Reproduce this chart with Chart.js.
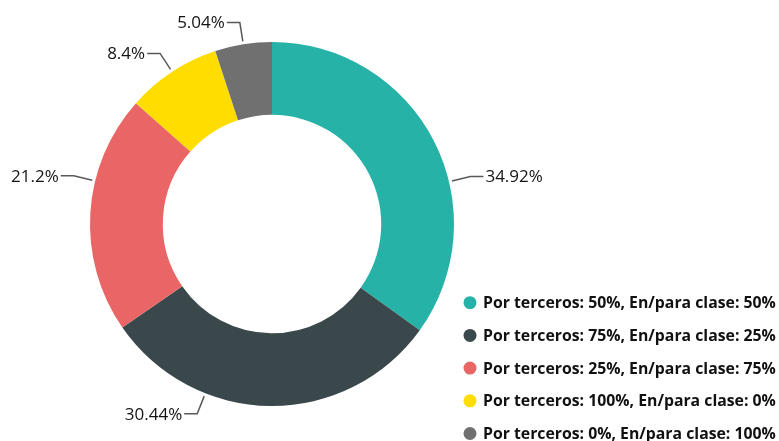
<!DOCTYPE html>
<html>
<head>
<meta charset="utf-8">
<script src="https://cdn.jsdelivr.net/npm/chart.js@4"></script>
<style>
    html, body { margin: 0; padding: 0; background: #fff; overflow: hidden; }
    #wrap { position: relative; width: 779px; height: 441px; }
</style>
</head>
<body>
<div id="wrap"><canvas id="donut" width="779" height="441"></canvas></div>
<script>
// Data
const categories = [
    'Por terceros: 50%, En/para clase: 50%',
    'Por terceros: 75%, En/para clase: 25%',
    'Por terceros: 25%, En/para clase: 75%',
    'Por terceros: 100%, En/para clase: 0%',
    'Por terceros: 0%, En/para clase: 100%'
];
const shares = [34.92, 30.44, 21.2, 8.4, 5.04];
const shareLabels = ['34.92%', '30.44%', '21.2%', '8.4%', '5.04%'];
const sliceColors = ['#26B2A7', '#3A484C', '#E96566', '#FFDD00', '#707070'];

// Outside labels with elbow leader lines
const leaderLabels = {
    id: 'leaderLabels',
    afterDraw(chart, args, opts) {
        const ctx = chart.ctx;
        const arcs = chart.getDatasetMeta(0).data;
        ctx.save();
        ctx.font = opts.font;
        ctx.textBaseline = 'middle';
        arcs.forEach((arc, i) => {
            const a = (arc.startAngle + arc.endAngle) / 2 + (opts.nudge[i] || 0) * Math.PI / 180;
            const r = arc.outerRadius;
            const x0 = arc.x + Math.cos(a) * (r + 3), y0 = arc.y + Math.sin(a) * (r + 3);
            const x1 = arc.x + Math.cos(a) * (r + 22), y1 = arc.y + Math.sin(a) * (r + 22);
            const dir = Math.cos(a) >= 0 ? 1 : -1;
            const x2 = x1 + dir * 13;
            ctx.strokeStyle = '#595959';
            ctx.lineWidth = 1.5;
            ctx.beginPath();
            ctx.moveTo(x0, y0);
            ctx.lineTo(x1, y1);
            ctx.lineTo(x2, y1);
            ctx.stroke();
            ctx.fillStyle = '#141414';
            ctx.textAlign = dir > 0 ? 'left' : 'right';
            ctx.fillText(shareLabels[i], x2 + dir * 2, y1 + 1);
        });
        ctx.restore();
    }
};

// Legend in the lower right corner
const cornerLegend = {
    id: 'cornerLegend',
    afterDraw(chart, args, opts) {
        const ctx = chart.ctx;
        ctx.save();
        ctx.font = opts.font;
        ctx.textBaseline = 'middle';
        ctx.textAlign = 'left';
        categories.forEach((name, i) => {
            const y = opts.top + i * opts.step;
            ctx.fillStyle = sliceColors[i];
            ctx.beginPath();
            ctx.arc(opts.left, y, 6.5, 0, Math.PI * 2);
            ctx.fill();
            ctx.fillStyle = '#111';
            ctx.fillText(name, opts.left + 13, y + 1);
        });
        ctx.restore();
    }
};

new Chart(document.getElementById('donut'), {
    type: 'doughnut',
    data: {
        labels: categories,
        datasets: [{
            data: shares,
            backgroundColor: sliceColors,
            borderWidth: 0,
            hoverOffset: 0
        }]
    },
    options: {
        responsive: false,
        animation: false,
        events: [],
        cutout: '60%',
        layout: { padding: { left: 90, right: 325, top: 42, bottom: 35 } },
        plugins: {
            legend: { display: false },
            tooltip: { enabled: false },
            leaderLabels: { font: '17px "Open Sans"', nudge: [13.7, 21, 10.2, 0, 0] },
            cornerLegend: { font: 'bold 15.8px "Open Sans"', left: 470, top: 302.7, step: 32.7 }
        }
    },
    plugins: [leaderLabels, cornerLegend]
});
</script>
</body>
</html>
